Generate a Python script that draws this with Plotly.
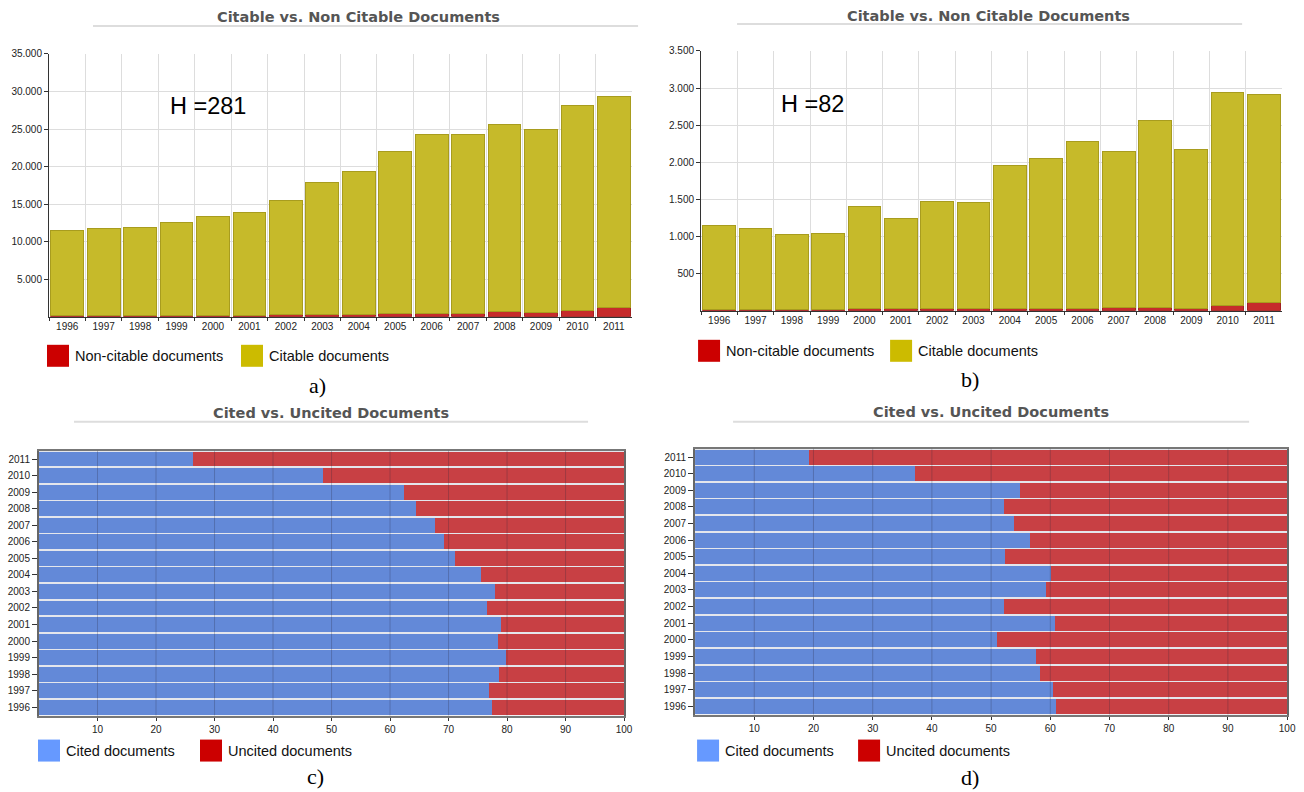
import plotly.graph_objects as go

W, H = 1304, 792

years = [str(y) for y in range(1996, 2012)]

# Panel a: total documents (citable + non-citable) and non-citable
a_total = [11450, 11700, 11900, 12550, 13300, 13900, 15450, 17850,
           19350, 22000, 24300, 24250, 25600, 24900, 28100, 29300]
a_noncit = [150, 150, 180, 180, 200, 200, 250, 300,
            250, 400, 450, 450, 700, 550, 800, 1300]
a_cit = [t - n for t, n in zip(a_total, a_noncit)]

# Panel b
b_total = [1150, 1115, 1025, 1045, 1410, 1245, 1478, 1460,
           1962, 2058, 2285, 2140, 2565, 2168, 2942, 2912]
b_noncit = [20, 20, 20, 20, 25, 25, 30, 30,
            25, 25, 30, 40, 40, 35, 75, 110]
b_cit = [t - n for t, n in zip(b_total, b_noncit)]

# Panel c: % cited documents
c_cited = [77.5, 76.9, 78.6, 79.8, 78.4, 79.0, 76.5, 78.0,
           75.5, 71.1, 69.3, 67.7, 64.5, 62.4, 48.6, 26.4]
c_uncited = [round(100 - v, 1) for v in c_cited]

# Panel d
d_cited = [60.9, 60.5, 58.3, 57.6, 51.0, 60.8, 52.2, 59.3,
           60.2, 52.4, 56.5, 53.9, 52.1, 54.8, 37.2, 19.2]
d_uncited = [round(100 - v, 1) for v in d_cited]

h_index = {"a": 281, "b": 82}

YELLOW = "#C6BA2A"
DARKRED = "#C62B2B"
BLUE = "#6389D8"
RED2 = "#C84044"
LEG_RED = "#CC0000"
LEG_YEL = "#CCBB00"
LEG_BLUE = "#6699FF"

SC = 0.993
YOFF = 5


def px(x):
    return (x / SC) / W


def py(y):
    return 1 - ((y - YOFF) / SC) / H


fig = go.Figure()

# ---- panel a ----
fig.add_trace(go.Bar(x=years, y=a_noncit, marker=dict(color=DARKRED, line=dict(color="#A02020", width=1)),
                     name="Non-citable documents", xaxis="x", yaxis="y", showlegend=False))
fig.add_trace(go.Bar(x=years, y=a_cit, marker=dict(color=YELLOW, line=dict(color="#A89C1E", width=1)),
                     name="Citable documents", xaxis="x", yaxis="y", showlegend=False))
# ---- panel b ----
fig.add_trace(go.Bar(x=years, y=b_noncit, marker=dict(color=DARKRED, line=dict(color="#A02020", width=1)),
                     name="Non-citable documents", xaxis="x2", yaxis="y2", showlegend=False))
fig.add_trace(go.Bar(x=years, y=b_cit, marker=dict(color=YELLOW, line=dict(color="#A89C1E", width=1)),
                     name="Citable documents", xaxis="x2", yaxis="y2", showlegend=False))
# ---- panel c ----
fig.add_trace(go.Bar(y=years, x=c_cited, orientation="h", marker=dict(color=BLUE, line=dict(width=0)),
                     name="Cited documents", xaxis="x3", yaxis="y3", showlegend=False))
fig.add_trace(go.Bar(y=years, x=c_uncited, orientation="h", marker=dict(color=RED2, line=dict(width=0)),
                     name="Uncited documents", xaxis="x3", yaxis="y3", showlegend=False))
# ---- panel d ----
fig.add_trace(go.Bar(y=years, x=d_cited, orientation="h", marker=dict(color=BLUE, line=dict(width=0)),
                     name="Cited documents", xaxis="x4", yaxis="y4", showlegend=False))
fig.add_trace(go.Bar(y=years, x=d_uncited, orientation="h", marker=dict(color=RED2, line=dict(width=0)),
                     name="Uncited documents", xaxis="x4", yaxis="y4", showlegend=False))

tickfont = dict(family="Liberation Sans, Arial", size=10, color="#222")

vbar_x = dict(type="category", categoryorder="array", categoryarray=years,
              tickson="boundaries", showgrid=True, gridcolor="#DDDDDD", gridwidth=1,
              showline=True, linecolor="#333", linewidth=1, ticks="outside", ticklen=3,
              tickcolor="#333", tickfont=tickfont, mirror=False, fixedrange=True)
vbar_y_common = dict(showgrid=True, gridcolor="#DDDDDD", gridwidth=1, showline=True,
                     linecolor="#333", linewidth=1, ticks="outside", ticklen=4, tickcolor="#333",
                     tickfont=tickfont, tickformat=",d", zeroline=False)

hbar_y = dict(type="category", categoryorder="array", categoryarray=years,
              showgrid=False, showline=True, linecolor="#666", linewidth=2, ticks="outside",
              ticklen=5, tickcolor="#333", tickfont=tickfont, mirror=True)
hbar_x_common = dict(range=[0, 100], tickvals=list(range(10, 101, 10)), showgrid=False,
                     showline=True, linecolor="#777", linewidth=2, ticks="outside", ticklen=3,
                     tickcolor="#333", tickfont=tickfont, zeroline=False, mirror=True)

fig.update_layout(
    width=W, height=H,
    margin=dict(l=0, r=0, t=0, b=0),
    paper_bgcolor="white", plot_bgcolor="white",
    barmode="stack", bargap=0.1,
    separators=",.",
    font=dict(family="Liberation Sans, Arial", color="#222"),
    xaxis=dict(domain=[px(49), px(632)], anchor="y", **vbar_x),
    yaxis=dict(domain=[py(316), py(53)], anchor="x", range=[0, 35000],
               tickvals=list(range(5000, 35001, 5000)), **vbar_y_common),
    xaxis2=dict(domain=[px(701), px(1282)], anchor="y2", **vbar_x),
    yaxis2=dict(domain=[py(310), py(50)], anchor="x2", range=[0, 3500],
                tickvals=list(range(500, 3501, 500)), **vbar_y_common),
    xaxis3=dict(domain=[px(39), px(624)], anchor="y3", **hbar_x_common),
    yaxis3=dict(domain=[py(715), py(450)], anchor="x3", **hbar_y),
    xaxis4=dict(domain=[px(695), px(1287)], anchor="y4", **hbar_x_common),
    yaxis4=dict(domain=[py(714), py(448)], anchor="x4", **hbar_y),
)

shapes = []
annotations = []

# light background behind horizontal bars + grid lines drawn over bars
for xr, yr in (("x3", "y3"), ("x4", "y4")):
    shapes.append(dict(type="rect", xref=f"{xr} domain", yref=f"{yr} domain", x0=0, x1=1, y0=0, y1=1,
                       fillcolor="#E4E6EC", line=dict(width=0), layer="below"))
    for v in range(10, 100, 10):
        shapes.append(dict(type="line", xref=xr, yref=f"{yr} domain", x0=v, x1=v, y0=0, y1=1,
                           line=dict(color="rgba(40,40,60,0.25)", width=1), layer="above"))

# titles with underline
titles = [
    ("Citable vs. Non Citable Documents", 358, 16, 93, 638, 25),
    ("Citable vs. Non Citable Documents", 988, 15, 737, 1242, 23),
    ("Cited vs. Uncited Documents", 331, 412, 74, 588, 421),
    ("Cited vs. Uncited Documents", 991, 411, 733, 1249, 421),
]
for text, cx, cy, lx0, lx1, ly in titles:
    annotations.append(dict(text=f"<b>{text}</b>", x=px(cx), y=py(cy), xref="paper", yref="paper",
                            showarrow=False, xanchor="center", yanchor="middle",
                            font=dict(family="DejaVu Sans", size=14.5, color="#555")))
    shapes.append(dict(type="line", xref="paper", yref="paper", x0=px(lx0), x1=px(lx1),
                       y0=py(ly), y1=py(ly), line=dict(color="#DDDDDD", width=2)))

# H index annotations
annotations.append(dict(text=f"H ={h_index['a']}", x=px(168), y=py(105), xref="paper", yref="paper",
                        showarrow=False, xanchor="left", yanchor="middle",
                        font=dict(family="Liberation Sans, Arial", size=23.5, color="black")))
annotations.append(dict(text=f"H ={h_index['b']}", x=px(779), y=py(103), xref="paper", yref="paper",
                        showarrow=False, xanchor="left", yanchor="middle",
                        font=dict(family="Liberation Sans, Arial", size=23.5, color="black")))

# legends
legends = [
    (47, 355, LEG_RED, "Non-citable documents"),
    (241, 355, LEG_YEL, "Citable documents"),
    (698, 350, LEG_RED, "Non-citable documents"),
    (890, 350, LEG_YEL, "Citable documents"),
    (38, 750, LEG_BLUE, "Cited documents"),
    (200, 750, LEG_RED, "Uncited documents"),
    (697, 750, LEG_BLUE, "Cited documents"),
    (858, 750, LEG_RED, "Uncited documents"),
]
for x0, yc, col, text in legends:
    shapes.append(dict(type="rect", xref="paper", yref="paper", x0=px(x0), x1=px(x0 + 22),
                       y0=py(yc + 11), y1=py(yc - 11), fillcolor=col, line=dict(width=0)))
    annotations.append(dict(text=text, x=px(x0 + 26), y=py(yc), xref="paper", yref="paper",
                            showarrow=False, xanchor="left", yanchor="middle",
                            font=dict(family="Liberation Sans, Arial", size=14.5, color="#111")))

# captions
for text, cx, cy in (("a)", 317, 385), ("b)", 970, 379), ("c)", 315, 776), ("d)", 970, 777)):
    annotations.append(dict(text=text, x=px(cx), y=py(cy), xref="paper", yref="paper",
                            showarrow=False, xanchor="center", yanchor="middle",
                            font=dict(family="Liberation Serif, Times New Roman", size=22, color="black")))

fig.update_layout(shapes=shapes, annotations=annotations)

post = (
    "document.body.style.margin='0';"
    "document.body.style.overflow='hidden';"
    "var gd=document.getElementById('{plot_id}');"
    "gd.style.position='absolute';gd.style.left='0px';gd.style.top='0px';"
)
fig.write_html("out.html", config={"displayModeBar": False}, post_script=post)
